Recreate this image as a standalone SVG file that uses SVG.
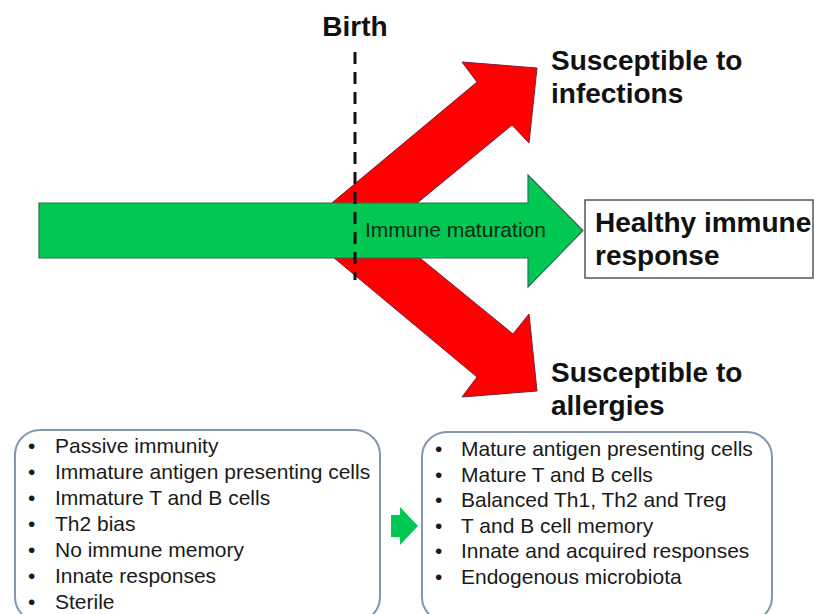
<svg xmlns="http://www.w3.org/2000/svg" width="814" height="614" viewBox="0 0 814 614">
<style>
.bold{font-family:"Liberation Sans",Arial,sans-serif;font-weight:bold;font-size:28px;fill:#111}
.list{font-family:"Liberation Sans",Arial,sans-serif;font-size:21px;fill:#1a1a1a}
.label{font-family:"Liberation Sans",Arial,sans-serif;font-size:21px;fill:#0d2a14}
.box{fill:#ffffff;stroke:#8496b0;stroke-width:2}
.red{fill:#ff0000;stroke:#7a1f3d;stroke-width:1}
.green{fill:#00c853;stroke:#2a6e55;stroke-width:1.2}
</style>
<rect width="814" height="614" fill="#ffffff"/>
<g id="connectors">
  <polygon id="red-arrows" class="red" points="300,229.5 477,82 462,62 537,68 529,143 512,125 385,229.5 513,334 529,314 537,391 462,397 477,377"/>
  <polygon id="green-arrow" class="green" points="39,203 528,203 528,175 583,230.5 528,287 528,258 39,258"/>
  <polygon id="small-arrow" fill="#00c853" points="391,515 400,515 400,507 418,526 400,545 400,537 391,537"/>
  <line id="birth-line" x1="355" y1="52" x2="355" y2="280" stroke="#111" stroke-width="3" stroke-dasharray="12 8"/>
</g>
<g id="birth">
  <text class="bold" x="355" y="36" text-anchor="middle" font-size="27">Birth</text>
</g>
<g id="maturation-label">
  <text class="label" x="365" y="237">Immune maturation</text>
</g>
<g id="infections">
  <text class="bold" x="551" y="70">Susceptible to</text>
  <text class="bold" x="551" y="103">infections</text>
</g>
<g id="healthy">
  <rect x="585" y="200" width="228" height="78" fill="#ffffff" stroke="#555" stroke-width="1.5"/>
  <text class="bold" x="595" y="232">Healthy immune</text>
  <text class="bold" x="595" y="265">response</text>
</g>
<g id="allergies">
  <text class="bold" x="551" y="382">Susceptible to</text>
  <text class="bold" x="551" y="415">allergies</text>
</g>
<g id="before-box">
  <rect class="box" x="15" y="430" width="365" height="192" rx="25" ry="25"/>
  <g class="list">
    <text x="28" y="453">•</text><text x="55" y="453">Passive immunity</text>
    <text x="28" y="479">•</text><text x="55" y="479">Immature antigen presenting cells</text>
    <text x="28" y="505">•</text><text x="55" y="505">Immature T and B cells</text>
    <text x="28" y="531">•</text><text x="55" y="531">Th2 bias</text>
    <text x="28" y="557">•</text><text x="55" y="557">No immune memory</text>
    <text x="28" y="583">•</text><text x="55" y="583">Innate responses</text>
    <text x="28" y="609">•</text><text x="55" y="609">Sterile</text>
  </g>
</g>
<g id="after-box">
  <rect class="box" x="422" y="432" width="350" height="190" rx="25" ry="25"/>
  <g class="list">
    <text x="435" y="456">•</text><text x="461" y="456">Mature antigen presenting cells</text>
    <text x="435" y="481.5">•</text><text x="461" y="481.5">Mature T and B cells</text>
    <text x="435" y="507">•</text><text x="461" y="507">Balanced Th1, Th2 and Treg</text>
    <text x="435" y="532.5">•</text><text x="461" y="532.5">T and B cell memory</text>
    <text x="435" y="558">•</text><text x="461" y="558">Innate and acquired responses</text>
    <text x="435" y="583.5">•</text><text x="461" y="583.5">Endogenous microbiota</text>
  </g>
</g>
</svg>
